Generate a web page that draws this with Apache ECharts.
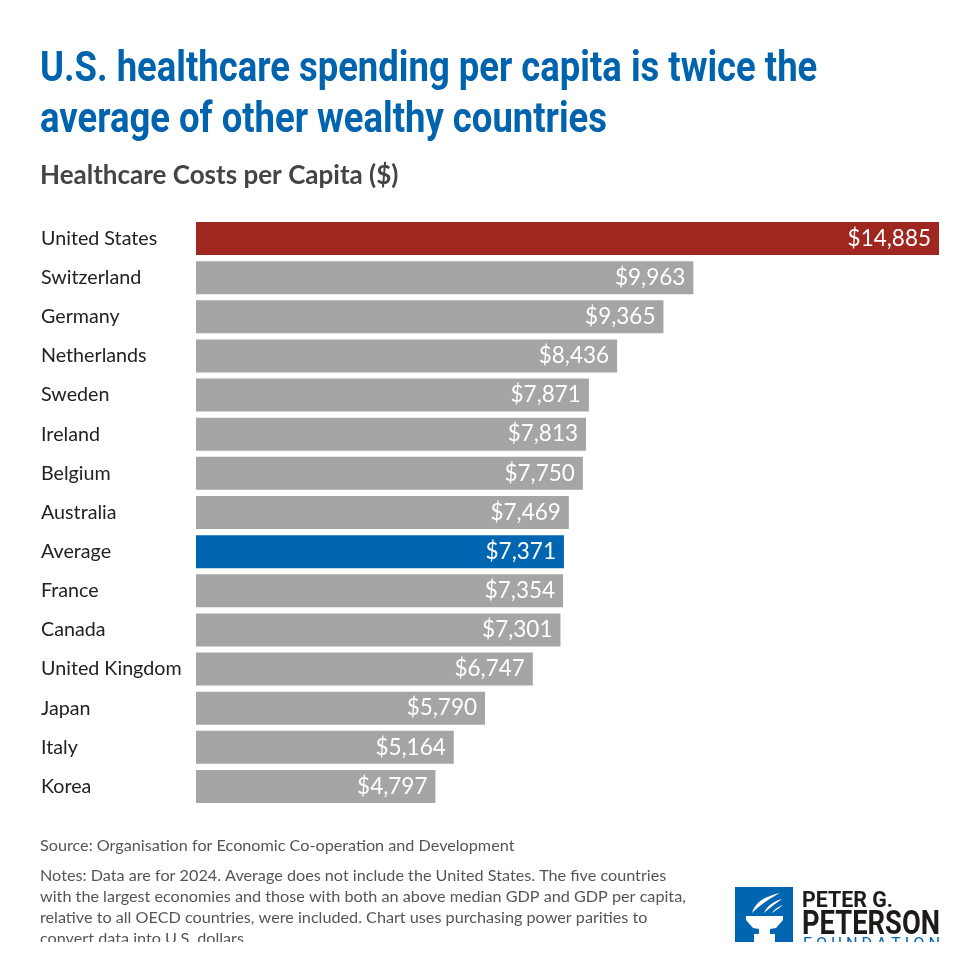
<!DOCTYPE html>
<html>
<head>
<meta charset="utf-8">
<script src="https://cdn.jsdelivr.net/npm/echarts@6/dist/echarts.min.js"></script>
<style>
  html, body { margin: 0; padding: 0; background: #fff; }
  #chart { width: 980px; height: 980px; }
</style>
</head>
<body>
<div id="chart"></div>
<script>
// data
const countries = ['United States', 'Switzerland', 'Germany', 'Netherlands', 'Sweden', 'Ireland',
  'Belgium', 'Australia', 'Average', 'France', 'Canada', 'United Kingdom', 'Japan', 'Italy', 'Korea'];
const spending = [14885, 9963, 9365, 8436, 7871, 7813, 7750, 7469, 7371, 7354, 7301, 6747, 5790, 5164, 4797];
const highlight = { 'United States': '#a0271f', 'Average': '#0066b2' };

const titleLines = ['U.S. healthcare spending per capita is twice the', 'average of other wealthy countries'];
const subtitle = 'Healthcare Costs per Capita ($)';
const sourceText = 'Source: Organisation for Economic Co-operation and Development';
const notesLines = [
  'Notes: Data are for 2024. Average does not include the United States. The five countries',
  'with the largest economies and those with both an above median GDP and GDP per capita,',
  'relative to all OECD countries, were included. Chart uses purchasing power parities to',
  'convert data into U.S. dollars.'
];

const chart = echarts.init(document.getElementById('chart'));
const narrow = 'Roboto, sans-serif';

const fmt = v => '$' + v.toLocaleString('en-US');

// no condensed face is installed, so squeeze a normal one to the width seen in the picture
const ctx = document.createElement('canvas').getContext('2d');
function textWidth(text, size, weight, family) {
  ctx.font = weight + ' ' + size + 'px ' + family;
  return ctx.measureText(text).width;
}

function txt(x, y, text, size, weight, family, color, sx) {
  return {
    type: 'text', x: x, y: y, scaleX: sx || 1,
    style: { text: text, fontSize: size, fontWeight: weight, fontFamily: family, fill: color, textVerticalAlign: 'top' }
  };
}

// flame shape for the logo: a quadratic curve out and another back
function swoosh(p0, c1, p1, c2) {
  const pts = [];
  for (let t = 0; t <= 1.001; t += 0.1) {
    pts.push([(1 - t) * (1 - t) * p0[0] + 2 * (1 - t) * t * c1[0] + t * t * p1[0],
              (1 - t) * (1 - t) * p0[1] + 2 * (1 - t) * t * c1[1] + t * t * p1[1]]);
  }
  for (let t = 0; t <= 1.001; t += 0.1) {
    pts.push([(1 - t) * (1 - t) * p1[0] + 2 * (1 - t) * t * c2[0] + t * t * p0[0],
              (1 - t) * (1 - t) * p1[1] + 2 * (1 - t) * t * c2[1] + t * t * p0[1]]);
  }
  return { type: 'polygon', shape: { points: pts }, style: { fill: '#fff' } };
}

const graphics = [];
const titleScale = 567 / textWidth(titleLines[1], 42, 'bold', narrow);
titleLines.forEach((t, i) => {
  graphics.push(txt(40, 49 + i * 51, t, 42, 'bold', narrow, '#0063ad', titleScale));
});
graphics.push(txt(40, 163, subtitle, 26, 'bold', 'Lato', '#444'));
graphics.push(txt(40, 838, sourceText, 16.2, 'normal', 'Lato', '#555'));
notesLines.forEach((t, i) => {
  graphics.push(txt(40, 868 + i * 21, t, 16.2, 'normal', 'Lato', '#555'));
});

// logo
graphics.push({ type: 'rect', shape: { x: 735, y: 887, width: 58, height: 60 }, style: { fill: '#0066b2' } });
graphics.push({
  type: 'polygon',
  shape: { points: [[746, 916], [783, 916], [783, 920], [776, 928], [770, 929], [770, 934], [775, 934], [775, 945], [754, 945], [754, 934], [759, 934], [759, 929], [753, 928], [746, 920]] },
  style: { fill: '#fff' }
});
graphics.push(swoosh([752, 913], [756, 898], [780, 893], [763, 902]));
graphics.push(swoosh([764, 913], [768, 903], [782, 899], [772, 906]));
graphics.push(swoosh([772, 913], [775, 908], [783, 905], [778, 909]));
graphics.push(txt(802, 890, 'PETER G.', 22, 'bold', narrow, '#1d1a17', 91 / textWidth('PETER G.', 22, 'bold', narrow)));
graphics.push(txt(802, 908, 'PETERSON', 34, 'bold', narrow, '#1d1a17', 138 / textWidth('PETERSON', 34, 'bold', narrow)));
graphics.push(txt(803, 936, 'F O U N D A T I O N', 17, 'normal', narrow, '#0066b2', 137 / textWidth('F O U N D A T I O N', 17, 'normal', narrow)));
// image is cropped at the bottom
graphics.push({ type: 'rect', shape: { x: 0, y: 942, width: 980, height: 40 }, style: { fill: '#fff' }, z: 100 });

chart.setOption({
  backgroundColor: '#fff',
  animation: false,
  graphic: graphics,
  grid: { left: 196, right: 41, top: 219, height: 587 },
  xAxis: {
    type: 'value', min: 0, max: 14885, show: false
  },
  yAxis: {
    type: 'category', inverse: true, data: countries,
    axisLine: { show: false }, axisTick: { show: false },
    axisLabel: {
      align: 'left', margin: 155, fontFamily: 'Lato', fontSize: 19.7, color: '#222'
    }
  },
  series: [{
    type: 'bar',
    barWidth: 33,
    data: spending.map((v, i) => ({
      value: v,
      itemStyle: { color: highlight[countries[i]] || '#a5a5a5' }
    })),
    label: {
      show: true, position: 'insideRight', distance: 8,
      fontFamily: 'Lato', fontSize: 22.5, color: '#fff',
      formatter: p => fmt(p.value)
    }
  }]
});
</script>
</body>
</html>
